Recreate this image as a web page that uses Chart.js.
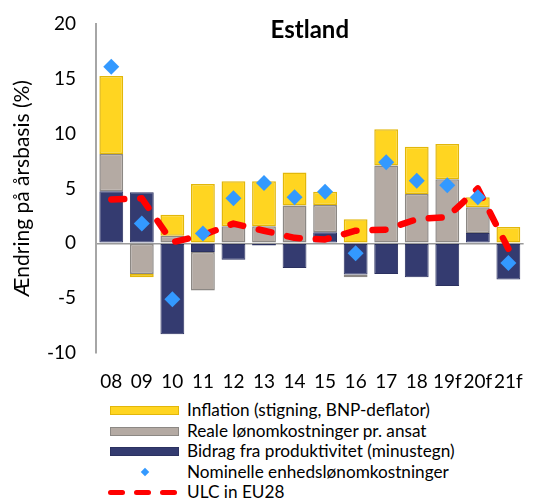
<!DOCTYPE html>
<html>
<head>
<meta charset="utf-8">
<script src="https://cdn.jsdelivr.net/npm/chart.js@4/dist/chart.umd.min.js"></script>
<style>
  html, body { margin: 0; padding: 0; background: #fff; }
  #wrap { position: relative; width: 540px; height: 502px; font-family: Lato, "Open Sans", sans-serif; }
  #box { position: absolute; left: 0; top: 0; width: 540px; height: 395px; }
  #legend { position: absolute; left: 110px; top: 400px; }
  .row { height: 20.6px; line-height: 20.6px; font-size: 17.2px; color: #000; display: flex; align-items: center; white-space: nowrap; }
  .key { width: 70px; height: 20.6px; position: relative; margin-right: 7px; }
  .sw { position: absolute; left: 0; top: 6px; width: 67px; height: 7px; border: 1.5px solid; }
  .dia { position: absolute; left: 32px; top: 7px; width: 6px; height: 6px; background: #3399ff; transform: rotate(45deg); }
  .dash { position: absolute; top: 8px; width: 17px; height: 5px; border-radius: 3px; background: #ff0000; }
</style>
</head>
<body>
<div id="wrap">
  <div id="box"><canvas id="grafico"></canvas></div>
  <div id="legend"></div>
</div>
<script>
// ===============================
// DATA
// ===============================

const aar = ["08", "09", "10", "11", "12", "13", "14", "15", "16", "17", "18", "19f", "20f", "21f"];

const produktivitet = [4.75, 4.65, -8.3, -0.8, -1.5, -0.2, -2.25, 1.0, -2.85, -2.8, -3.1, -3.9, 0.95, -3.3];
const realLoen = [3.4, -2.8, 0.7, -3.5, 1.55, 1.55, 3.45, 2.5, -0.25, 7.1, 4.5, 5.85, 2.35, 0];
const inflation = [7.1, -0.3, 1.9, 5.4, 4.1, 4.1, 3.0, 1.2, 2.2, 3.3, 4.3, 3.2, 0.9, 1.5];
const nominelULC = [16.1, 1.8, -5.1, 0.9, 4.1, 5.5, 4.2, 4.7, -0.9, 7.4, 5.7, 5.3, 4.2, -1.8];
const ulcEU28 = [4.0, 4.1, 0.1, 0.75, 1.8, 1.15, 0.5, 0.35, 1.15, 1.25, 2.2, 2.4, 5.0, -0.5];

const yTicks = [-10, -5, 0, 5, 10, 15, 20];

const FONT = "Lato, 'Open Sans', sans-serif";

// ===============================
// TITLE INSIDE THE PLOT
// ===============================

const titel = {
    id: "titel",
    afterDraw(chart) {
        const { ctx, chartArea } = chart;
        ctx.save();
        ctx.font = "bold 24px " + FONT;
        ctx.fillStyle = "#000";
        ctx.textAlign = "center";
        ctx.textBaseline = "middle";
        ctx.fillText("Estland", (chartArea.left + chartArea.right) / 2, 30);
        ctx.restore();
    }
};

// ===============================
// CHART
// ===============================

new Chart(document.getElementById("grafico"), {
    data: {
        labels: aar,
        datasets: [
            {
                type: "scatter",
                label: "Nominelle enhedslønomkostninger",
                data: nominelULC,
                order: 0,
                showLine: false,
                pointStyle: "rectRot",
                pointRadius: 8,
                pointHoverRadius: 8,
                backgroundColor: "#3399ff",
                borderWidth: 0
            },
            {
                type: "line",
                label: "ULC in EU28",
                data: ulcEU28,
                order: 1,
                borderColor: "#ff0000",
                borderWidth: 6.5,
                borderDash: [13, 16],
                borderCapStyle: "round",
                borderJoinStyle: "round",
                tension: 0,
                pointRadius: 0,
                fill: false
            },
            {
                type: "bar",
                label: "Bidrag fra produktivitet (minustegn)",
                data: produktivitet,
                order: 2,
                backgroundColor: "#343b70",
                borderColor: "#2b3160",
                borderWidth: 1
            },
            {
                type: "bar",
                label: "Reale lønomkostninger pr. ansat",
                data: realLoen,
                order: 2,
                backgroundColor: "#b4aaa3",
                borderColor: "#8c8884",
                borderWidth: 1.5
            },
            {
                type: "bar",
                label: "Inflation (stigning, BNP-deflator)",
                data: inflation,
                order: 2,
                backgroundColor: "#ffd521",
                borderColor: "#e2b70a",
                borderWidth: 1.5
            }
        ]
    },
    options: {
        responsive: true,
        maintainAspectRatio: false,
        animation: false,
        layout: { padding: { top: 24, right: 2, left: 0, bottom: 0 } },
        datasets: {
            bar: { barPercentage: 0.78, categoryPercentage: 1, stack: "a", borderSkipped: false }
        },
        plugins: {
            legend: { display: false },
            tooltip: { enabled: false }
        },
        scales: {
            x: {
                type: "category",
                stacked: true,
                grid: { display: false, drawTicks: false },
                border: { display: false },
                ticks: {
                    color: "#000",
                    padding: 17,
                    maxRotation: 0,
                    autoSkip: false,
                    font: { family: FONT, size: 19 }
                },
                afterFit(scale) { scale.height = 42; }
            },
            y: {
                stacked: true,
                min: -10,
                max: 20,
                afterBuildTicks(scale) { scale.ticks = yTicks.map(v => ({ value: v })); },
                grid: {
                    drawTicks: false,
                    color: ctx => ctx.tick && ctx.tick.value === 0 ? "#9a9a9a" : "rgba(0,0,0,0)",
                    lineWidth: 1.5
                },
                border: { color: "#a6a6a6", width: 2 },
                ticks: {
                    color: "#000",
                    padding: 20,
                    font: { family: FONT, size: 19 }
                },
                title: {
                    display: true,
                    text: "Ændring på årsbasis (%)",
                    color: "#000",
                    padding: { top: 10, bottom: 0 },
                    font: { family: FONT, size: 21 }
                },
                afterFit(scale) {
                    scale.width = 96;
                    scale.paddingTop = 0;
                    scale.paddingBottom = 0;
                }
            }
        }
    },
    plugins: [titel]
});

// ===============================
// LEGEND
// ===============================

const legendRows = [
    { tekst: "Inflation (stigning, BNP-deflator)", key: '<div class="sw" style="background:#ffd521;border-color:#e2b70a"></div>' },
    { tekst: "Reale lønomkostninger pr. ansat", key: '<div class="sw" style="background:#b4aaa3;border-color:#8c8884"></div>' },
    { tekst: "Bidrag fra produktivitet (minustegn)", key: '<div class="sw" style="background:#343b70;border-color:#2b3160"></div>' },
    { tekst: "Nominelle enhedslønomkostninger", key: '<div class="dia"></div>' },
    { tekst: "ULC in EU28", key: '<div class="dash" style="left:-2px"></div><div class="dash" style="left:24px"></div><div class="dash" style="left:50px"></div>' }
];

document.getElementById("legend").innerHTML = legendRows
    .map(r => '<div class="row"><div class="key">' + r.key + '</div><span>' + r.tekst + '</span></div>')
    .join("");
</script>
</body>
</html>
